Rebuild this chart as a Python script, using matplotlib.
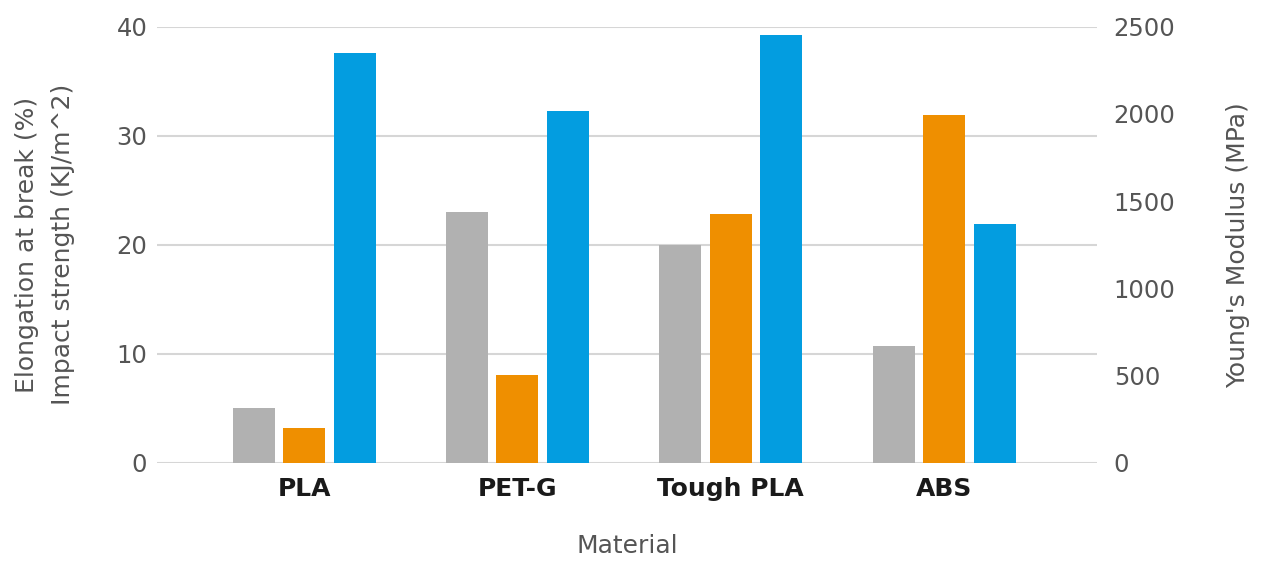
import numpy as np
import matplotlib.pyplot as plt

materials = ['PLA', 'PET-G', 'Tough PLA', 'ABS']
elongation = [5.0, 23.0, 20.0, 10.7]      # %
impact = [3.2, 8.1, 22.8, 31.9]           # KJ/m^2
modulus = [2350, 2015, 2453, 1369]        # MPa

c_gray = '#b1b1b1'
c_orange = '#ef8f00'
c_blue = '#039de0'
txt = '#555555'

plt.rcParams['font.family'] = 'DejaVu Sans'

fig = plt.figure(figsize=(12.63, 5.62), dpi=100)
ax = fig.add_axes([0.1243, 0.1762, 0.7443, 0.7763])
ax2 = ax.twinx()

x = np.arange(len(materials))
w = 0.197
step = 0.237

ax.bar(x - step, elongation, w, color=c_gray, zorder=3)
ax.bar(x, impact, w, color=c_orange, zorder=3)
ax2.bar(x + step, modulus, w, color=c_blue, zorder=3)

ax.set_xlim(-0.69, 3.717)
ax.set_ylim(0, 40)
ax2.set_ylim(0, 2500)
ax.set_yticks([0, 10, 20, 30, 40])
ax2.set_yticks([0, 500, 1000, 1500, 2000, 2500])

ax.grid(axis='y', color='#d6d6d6', linewidth=1.5)
ax.set_axisbelow(True)

for a in (ax, ax2):
    for s in a.spines.values():
        s.set_visible(False)
    a.tick_params(length=0, labelsize=17.5, labelcolor=txt)

ax.tick_params(axis='y', pad=7)
ax2.tick_params(axis='y', pad=12)

ax.set_xticks(x)
ax.set_xticklabels(materials, fontsize=18, fontweight='bold', color='#1a1a1a')
ax.tick_params(axis='x', pad=10)

ax.set_xlabel('Material', fontsize=18, color=txt, labelpad=24)
ax.set_ylabel('Elongation at break (%)\nImpact strength (KJ/m^2)', fontsize=18,
              color=txt, labelpad=30, linespacing=1.6)
ax2.set_ylabel("Young's Modulus (MPa)", fontsize=18, color=txt, labelpad=36)

fig.savefig('out.png', dpi=100, facecolor='white')
